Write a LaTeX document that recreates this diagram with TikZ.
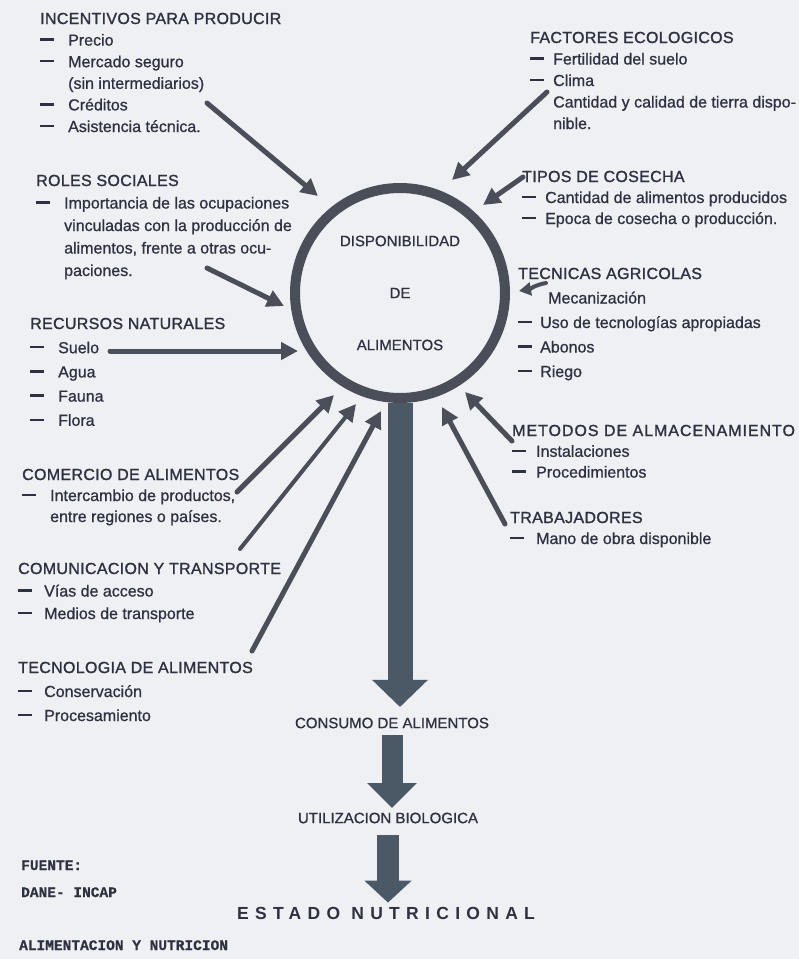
\documentclass[tikz,border=0pt]{standalone}
\usepackage{fontspec}
\setmainfont{Liberation Sans}[FakeBold=0.8]
\setmonofont{Liberation Mono}[FakeBold=0.6]
\newfontfamily\titfont{Liberation Sans}[LetterSpace=2,FakeBold=1.3]
\newfontfamily\anchafont{Liberation Sans}[LetterSpace=6,FakeBold=1.3]
\newfontfamily\estadofont{Liberation Sans}[LetterSpace=36]
\usetikzlibrary{arrows.meta}

\definecolor{papel}{HTML}{EEF0F3}
\definecolor{tinta}{HTML}{2D3140}
\definecolor{gris}{HTML}{4A4E58}
\definecolor{azul}{HTML}{4B5866}

\newcommand{\guion}{\rule[0.3em]{14pt}{2.4pt}}
\newcommand{\tit}[1]{\multicolumn{2}{@{}l@{}}{\titfont #1}}
\newcommand{\lista}[2]{\begin{tabular}[t]{@{}l@{\hspace{#1}}l@{}}#2\end{tabular}}

\begin{document}
\begin{tikzpicture}[x=1pt,y=-1pt]
\useasboundingbox (0,0) rectangle (799,959);
\fill[papel] (0,0) rectangle (799,959);
\tikzstyle{every node}=[text=tinta, inner sep=0pt];
\tikzstyle{bloque}=[anchor=base west];
\tikzstyle{flecha}=[draw=gris, line width=5pt, line cap=round, -{Triangle[length=17pt,width=17pt]}];
\tikzstyle{flechon}=[draw=azul];
% centro
\node[circle, draw=gris, line width=10pt, minimum size=210pt, align=center,
  font=\fontsize{15}{52}\selectfont] (v0) at (400,293) {DISPONIBILIDAD\\DE\\ALIMENTOS};
% izquierda
\node[bloque, font=\fontsize{16}{21.6}\selectfont] (t1) at (40,24) {\lista{14pt}{\tit{INCENTIVOS PARA PRODUCIR}\\
  \guion & Precio\\ \guion & Mercado seguro\\ & (sin intermediarios)\\
  \guion & Créditos\\ \guion & Asistencia técnica.}};
\node[bloque, font=\fontsize{16}{22.5}\selectfont] (t2) at (36,186) {\lista{14pt}{\tit{ROLES SOCIALES}\\
  \guion & Importancia de las ocupaciones\\ & vinculadas con la producción de\\
  & alimentos, frente a otras ocu-\\ & paciones.}};
\node[bloque, font=\fontsize{16}{24.2}\selectfont] (t3) at (30,329) {\lista{14pt}{\tit{RECURSOS NATURALES}\\
  \guion & Suelo\\ \guion & Agua\\ \guion & Fauna\\ \guion & Flora}};
\node[bloque, font=\fontsize{16}{21}\selectfont] (t4) at (22,480) {\lista{14pt}{\tit{COMERCIO DE ALIMENTOS}\\
  \guion & Intercambio de productos,\\ & entre regiones o países.}};
\node[bloque, font=\fontsize{16}{22.5}\selectfont] (t5) at (18,574) {\lista{12pt}{\tit{COMUNICACION Y TRANSPORTE}\\
  \guion & Vías de acceso\\ \guion & Medios de transporte}};
\node[bloque, font=\fontsize{16}{24}\selectfont] (t6) at (18,673) {\lista{12pt}{\tit{TECNOLOGIA DE ALIMENTOS}\\
  \guion & Conservación\\ \guion & Procesamiento}};
% derecha
\node[bloque, font=\fontsize{16}{21.5}\selectfont] (t7) at (530,43) {\lista{9pt}{\tit{FACTORES ECOLOGICOS}\\
  \guion & Fertilidad del suelo\\ \guion & Clima\\
  & Cantidad y calidad de tierra dispo-\\ & nible.}};
\node[bloque, font=\fontsize{16}{21}\selectfont] (t8) at (522,182) {\lista{9pt}{\tit{TIPOS DE COSECHA}\\
  \guion & Cantidad de alimentos producidos\\ \guion & Epoca de cosecha o producción.}};
\node[bloque, font=\fontsize{16}{24.5}\selectfont] (t9) at (518,279) {\lista{8pt}{\tit{TECNICAS AGRICOLAS}\\
  & \hspace{8pt}Mecanización\\ \guion & Uso de tecnologías apropiadas\\ \guion & Abonos\\ \guion & Riego}};
\node[bloque, font=\fontsize{16}{20.8}\selectfont] (t10) at (512,436) {\lista{10pt}{\multicolumn{2}{@{}l@{}}{\anchafont METODOS DE ALMACENAMIENTO}\\
  \guion & Instalaciones\\ \guion & Procedimientos}};
\node[bloque, font=\fontsize{16}{21}\selectfont] (t11) at (510,523) {\lista{12pt}{\tit{TRABAJADORES}\\
  \guion & Mano de obra disponible}};
% abajo
\node[font=\fontsize{15}{18}\selectfont] (c1) at (392,723) {CONSUMO DE ALIMENTOS};
\node[font=\fontsize{15}{18}\selectfont] (c2) at (388,818) {UTILIZACION BIOLOGICA};
\node[font=\fontsize{17.5}{20}\selectfont\estadofont\bfseries] (c3) at (386,913) {ESTADO NUTRICIONAL};
\node[bloque, font=\fontsize{14.5}{27}\selectfont\ttfamily\bfseries] (f1) at (21,870) {FUENTE:};
\node[bloque, font=\fontsize{14.5}{27}\selectfont\ttfamily\bfseries] (f2) at (21,897) {DANE- INCAP};
\node[bloque, font=\fontsize{14.5}{27}\selectfont\ttfamily\bfseries] (f3) at (19,950) {ALIMENTACION Y NUTRICION};
% puntos de las flechas
\coordinate (s1) at (207,103);  \coordinate (e1) at (318,196);
\coordinate (s2) at (207,268);  \coordinate (e2) at (284,306);
\coordinate (s3) at (110,351);  \coordinate (e3) at (298,351);
\coordinate (s4) at (237,492);  \coordinate (e4) at (334,395);
\coordinate (s5) at (240,549);  \coordinate (e5) at (356,404);
\coordinate (s6) at (252,651);  \coordinate (e6) at (381,411);
\coordinate (s7) at (505,524);  \coordinate (e7) at (442,407);
\coordinate (s8) at (512,441);  \coordinate (e8) at (465,392);
\coordinate (s9) at (546,283);  \coordinate (e9) at (519,291);
\coordinate (s10) at (523,177); \coordinate (e10) at (483,205);
\coordinate (s11) at (547,92);  \coordinate (e11) at (452,180);
\foreach \i in {1,2,3,4,6,7,8,10,11}
  \draw [flecha] (s\i) -- (e\i);
\draw [flecha, line width=4pt] (s5) -- (e5);
\draw [flecha, line width=4pt, -{Triangle[length=12pt,width=13pt]}] (s9) to[out=190,in=10] (e9);
% flechas gruesas
\draw [flechon, line width=25pt, -{Triangle[length=27pt,width=54pt]}, shorten >=10.5pt]
  (v0.south) -- (v0.south |- c1.north);
\draw [flechon, line width=21pt, -{Triangle[length=25pt,width=48pt]}, shorten <=6.5pt, shorten >=4.5pt]
  (c1.south) -- (c1.south |- c2.north);
\draw [flechon, line width=22pt, -{Triangle[length=22pt,width=46pt]}, shorten <=11.5pt, shorten >=4pt]
  (c2.south) -- (c2.south |- c3.north);
\end{tikzpicture}
\end{document}
